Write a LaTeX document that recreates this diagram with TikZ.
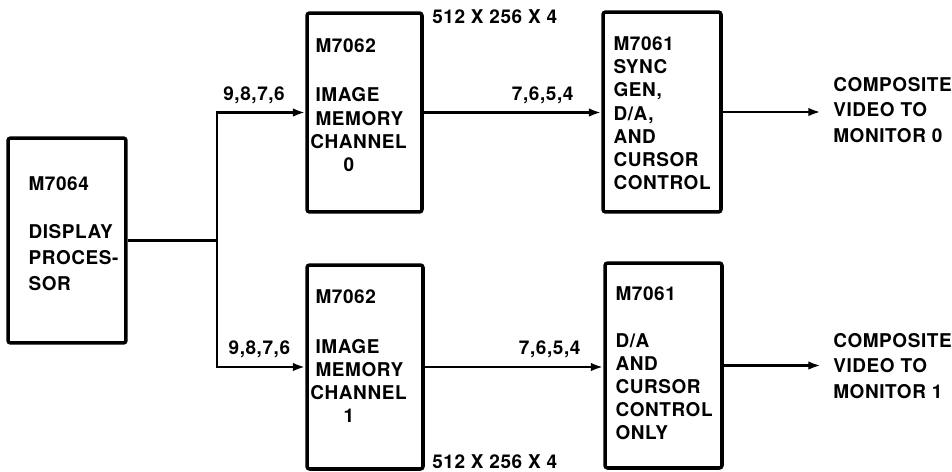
\documentclass[tikz,border=0pt]{standalone}
\usepackage{fontspec}
\setmainfont{TeX Gyre Heros}[LetterSpace=3]
\usetikzlibrary{arrows.meta, positioning, calc}

\begin{document}
\begin{tikzpicture}[x=0.02cm, y=-0.02cm, font=\bfseries\fontsize{10.8}{13.2}\selectfont,
    board/.style={draw, line width=2pt, rounded corners=1.5pt, inner sep=0pt},
    inbox/.style={align=left, inner sep=0pt},
    bus/.style={line width=1.4pt, -{Latex[length=7pt, width=4.8pt]}},
    wire/.style={line width=1.4pt},
    bits/.style={inner sep=0pt, above=4.5pt}]

  \useasboundingbox (0,0) rectangle (952,471);

  % Left: display processor and the split point
  \node[board, minimum width=2.36cm, minimum height=4.1cm] (disp) at (67,240.5) {};
  \node[inbox, below right=0.8cm and 0.44cm of disp.north west,
        font=\bfseries\fontsize{10.8}{14.8}\selectfont] (disptxt)
    {M7064\\[12.5pt]DISPLAY\\PROCES-\\SOR};
  \coordinate (split) at (217,240.5);

  % Middle: the two image memory channels
  \node[board, minimum width=2.3cm, minimum height=3.98cm] (mem0) at (364.5,112.5) {};
  \node[inbox, below right=0.54cm and 0.2cm of mem0.north west] (mem0txt)
    {M7062\\[15pt]IMAGE\\MEMORY\\\hspace*{-3pt}CHANNEL\\\hspace*{16pt}0};
  \node[board, minimum width=2.32cm, minimum height=4.08cm] (mem1) at (365,367) {};
  \node[inbox, below right=0.52cm and 0.2cm of mem1.north west] (mem1txt)
    {M7062\\[15pt]IMAGE\\MEMORY\\\hspace*{-3pt}CHANNEL\\\hspace*{16pt}1};

  \node[anchor=west, inner sep=0pt] (size0) at (432,17) {512 X 256 X 4};
  \node[anchor=west, inner sep=0pt] (size1) at (432,462) {512 X 256 X 4};

  % Right: sync / D/A boards
  \node[board, minimum width=2.36cm, minimum height=4.0cm] (sync0) at (662,112) {};
  \node[inbox, below right=0.52cm and 0.24cm of sync0.north west] (sync0txt)
    {M7061\\SYNC\\GEN,\\D/A,\\AND\\CURSOR\\CONTROL};
  \node[board, minimum width=2.34cm, minimum height=4.1cm] (sync1) at (663.5,365.5) {};
  \node[inbox, below right=0.5cm and 0.24cm of sync1.north west] (sync1txt)
    {M7061\\[13.4pt]D/A\\AND\\CURSOR\\CONTROL\\ONLY};

  % Outputs to the monitors
  \node[inbox, anchor=west, font=\bfseries\fontsize{10.8}{14.6}\selectfont] (mon0) at (833,110)
    {COMPOSITE\\VIDEO TO\\MONITOR 0};
  \node[inbox, anchor=west, font=\bfseries\fontsize{10.8}{14.6}\selectfont] (mon1) at (833,366)
    {COMPOSITE\\VIDEO TO\\MONITOR 1};

  % Connectors
  \draw[wire] (disp.east) -- (split);
  \draw[bus] (split) |- (mem0.west) node[bits, pos=0.71] {9,8,7,6};
  \draw[bus] (split) |- (mem1.west) node[bits, pos=0.74] {9,8,7,6};
  \draw[bus] (mem0.east) -- (mem0.east -| sync0.west) node[bits, pos=0.67] {7,6,5,4};
  \draw[bus] (mem1.east) -- (mem1.east -| sync1.west) node[bits, pos=0.7] {7,6,5,4};
  \draw[bus, shorten >=7pt] (sync0.east) -- (sync0.east -| mon0.west);
  \draw[bus, shorten >=7pt] (sync1.east) -- (sync1.east -| mon1.west);
\end{tikzpicture}
\end{document}
